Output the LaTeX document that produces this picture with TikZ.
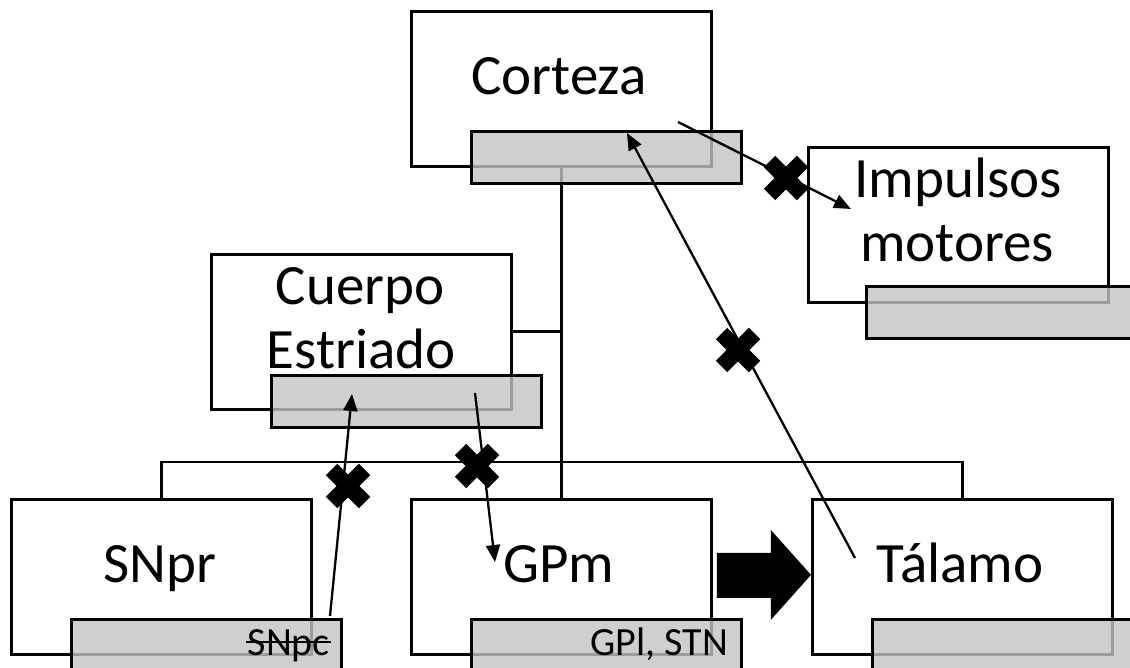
\documentclass[tikz,border=0pt]{standalone}
\usepackage{fontspec}
\setmainfont{Carlito}
\usetikzlibrary{arrows.meta,calc}
\definecolor{subgray}{RGB}{195,195,195}

\begin{document}
\begin{tikzpicture}[x=1pt,y=-1pt,
  mainbox/.style={draw=black,line width=2.8pt,fill=white,minimum width=300pt,
    minimum height=155pt,inner sep=0pt,anchor=north west},
  subbox/.style={draw=black,line width=2.8pt,fill=subgray,fill opacity=0.8,
    draw opacity=1,minimum width=270pt,minimum height=52pt,inner sep=0pt,anchor=north west},
  biglabel/.style={font=\fontsize{57}{64}\selectfont,anchor=base,inner sep=0pt},
  smalllabel/.style={font=\fontsize{40}{48}\selectfont,anchor=base east,inner sep=0pt},
  tree/.style={line width=2.9pt},
  link/.style={line width=2.3pt,-{Triangle[length=17pt,width=14pt]}},
  blockx/.pic={\draw[line width=16pt] (-16.5,-16.5) -- (16.5,16.5) (-16.5,16.5) -- (16.5,-16.5);}
]
\useasboundingbox (0,0) rectangle (1130,668);
\clip (0,0) rectangle (1130,668);

% main boxes
\node[mainbox] (ctx)  at (410,10)  {};
\node[mainbox] (imp)  at (807,146) {};
\node[mainbox] (str)  at (210,253) {};
\node[mainbox] (snpr) at (10,498)  {};
\node[mainbox] (gpm)  at (410,498) {};
\node[mainbox] (tal)  at (811,498) {};

% hierarchy lines
\coordinate (bus) at (560,462);
\draw[tree] (ctx.south) -- (gpm.north);
\draw[tree] (snpr.north) |- (bus) -| (tal.north);
\draw[tree] (str.east) -- (str.east -| ctx.south);

% shaded sub-boxes
\node[subbox] (ctxg)  at (470,130) {};
\node[subbox] (impg)  at (865,285) {};
\node[subbox] (strg)  at (270,374) {};
\node[subbox] (snprg) at (70,618)  {};
\node[subbox] (gpmg)  at (470,618) {};
\node[subbox] (talg)  at (871,618) {};

% labels
\node[biglabel] (tctx)  at (559,95)  {Corteza};
\node[biglabel] (timp1) at (958,198) {Impulsos};
\node[biglabel] (timp2) at (957,262) {motores};
\node[biglabel] (tstr1) at (360,305) {Cuerpo};
\node[biglabel] (tstr2) at (361,368) {Estriado};
\node[biglabel] (tsnpr) at (160,582) {SNpr};
\node[biglabel] (tgpm)  at (559,582) {GPm};
\node[biglabel] (ttal)  at (960,582) {Tálamo};
\node[smalllabel] (tsnpc) at (330,655) {SNpc};
\node[smalllabel] (tgpl)  at (728,655) {GPl, STN};
% struck-out SNpc
\draw[line width=2pt] ($(tsnpc.base west)+(-1,-13)$) -- ($(tsnpc.base east)+(1,-13)$);

% pathway ends
\coordinate (a1s) at (678,122);
\coordinate (a1e) at (851,209);
\coordinate (a2s) at (855,558);
\coordinate (a2e) at (627,133);
\coordinate (a3s) at (330,616);
\coordinate (a3e) at (352,394);
\coordinate (a4s) at (475,393);
\coordinate (a4e) at (495,562);

\draw[link] (a1s) -- (a1e);
\draw[link] (a2s) -- (a2e);
\draw[link] (a3s) -- (a3e);
\draw[link] (a4s) -- (a4e);

% blocked pathways
\pic at (786,178) {blockx};
\pic at (738,350) {blockx};
\pic at (348,486) {blockx};
\pic at (477,466) {blockx};

% direct pathway GPm -> Talamo
\fill[black] ($(gpm.east)+(4,-24)$) -- ++(54,0) -- ++(0,-23) -- ($(tal.west)+(0,-2)$)
  -- ($(gpm.east)+(58,43)$) -- ++(0,-22) -- ++(-54,0) -- cycle;
\end{tikzpicture}
\end{document}
